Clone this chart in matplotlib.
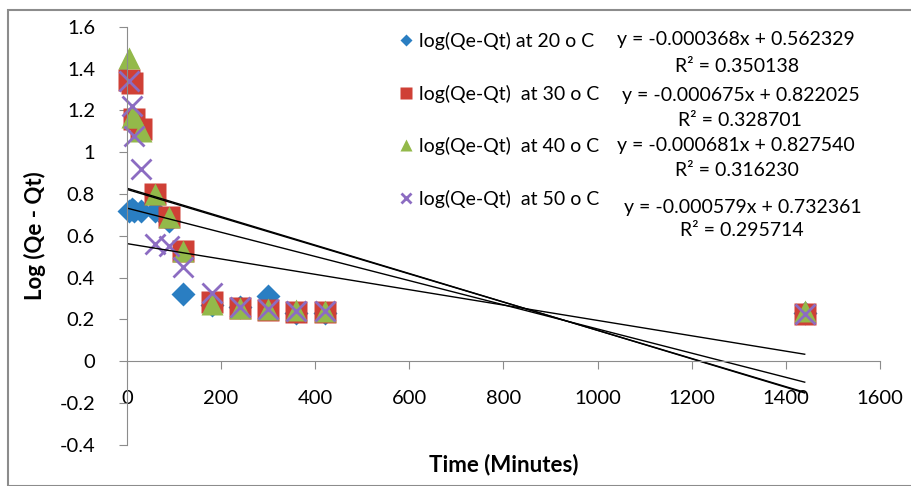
import numpy as np
import matplotlib.pyplot as plt
from matplotlib.patches import Rectangle

plt.rcParams['font.family'] = ['Lato', 'DejaVu Sans']

# tiempos (min)
t = [5, 10, 15, 30, 60, 90, 120, 180, 240, 300, 360, 420, 1440]

# log(Qe-Qt) para cada temperatura
y20 = [0.72, 0.73, 0.72, 0.72, 0.72, 0.67, 0.32, 0.27, 0.26, 0.31, 0.23, 0.23, 0.23]
y30 = [1.345, 1.33, 1.16, 1.11, 0.80, 0.69, 0.527, 0.283, 0.255, 0.245, 0.235, 0.235, 0.225]
y40 = [1.45, 1.17, 1.17, 1.10, 0.80, 0.69, 0.525, 0.275, 0.255, 0.25, 0.245, 0.24, 0.24]
y50 = [1.34, 1.22, 1.08, 0.92, 0.56, 0.55, 0.45, 0.325, 0.26, 0.25, 0.24, 0.24, 0.225]

etiquetas = ['log(Qe-Qt) at 20 o C', 'log(Qe-Qt)  at 30 o C',
             'log(Qe-Qt)  at 40 o C', 'log(Qe-Qt)  at 50 o C']
pendientes = [-0.000368, -0.000675, -0.000681, -0.000579]
ordenadas = [0.562329, 0.822025, 0.827540, 0.732361]
r2 = ['0.350138', '0.328701', '0.316230', '0.295714']

W, H = 911, 486
fig = plt.figure(figsize=(W / 100, H / 100), dpi=100)
ax = fig.add_axes([127 / W, 1 - 444.5 / H, (880 - 127) / W, (444.5 - 27) / H])

# marco gris del grafico
fig.patches.append(Rectangle((8 / W, 0), 1, 1 - 10 / H, transform=fig.transFigure,
                             fill=False, ec='#8c8c8c', lw=1.5))

colores = ['#2a7ec2', '#cf4036', '#93b94a', '#8c6cc2']
handles = []
h, = ax.plot(t, y20, 'D', color=colores[0], ms=12, mec='none', clip_on=False)
handles.append(h)
h, = ax.plot(t, y30, 's', color=colores[1], ms=16, mec='none', clip_on=False)
handles.append(h)
h, = ax.plot(t, y40, '^', color=colores[2], ms=16, mec='none', clip_on=False)
handles.append(h)
h, = ax.plot(t, y50, 'x', color=colores[3], ms=15, mew=2, clip_on=False)
handles.append(h)

# lineas de tendencia
xs = np.array([0, 1440])
for m, b in zip(pendientes, ordenadas):
    ax.plot(xs, m * xs + b, color='black', lw=1)

ax.set_xlim(0, 1600)
ax.set_ylim(-0.4, 1.6)
ax.set_xticks(np.arange(0, 1601, 200))
ax.set_yticks(np.arange(-0.4, 1.61, 0.2))
ax.set_yticklabels(['-0.4', '-0.2', '0', '0.2', '0.4', '0.6', '0.8', '1', '1.2', '1.4', '1.6'])

ax.spines['top'].set_visible(False)
ax.spines['right'].set_visible(False)
ax.spines['bottom'].set_position(('data', 0))
for s in ['left', 'bottom']:
    ax.spines[s].set_color('#8c8c8c')
ax.tick_params(axis='both', labelsize=14.5, color='#8c8c8c', length=6, direction='out')
ax.tick_params(axis='x', pad=15)
ax.tick_params(axis='y', pad=17)

ax.set_xlabel('Time (Minutes)', fontsize=16, fontweight='bold', va='center')
ax.xaxis.set_label_coords(0.5, -0.049)
ax.set_ylabel('Log (Qe - Qt)', fontsize=16, fontweight='bold', va='center', ha='center')
ax.yaxis.set_label_coords((35 - 127) / 753, 0.5)

leg = ax.legend(handles, etiquetas, loc='upper left', bbox_to_anchor=((390 - 127) / 753, 1 + 3 / 417.5),
                frameon=False, fontsize=14, markerscale=0.5, handlelength=0.8,
                handletextpad=0.3, labelspacing=1.78, borderaxespad=0)

# ecuaciones de las lineas de tendencia
eq_xy = [(736, 40), (741, 95), (736, 145), (743, 207)]
r2_xy = [(737, 67), (740, 120), (737, 170), (742, 230)]
for (ex, ey), (rx, ry), m, b, r in zip(eq_xy, r2_xy, pendientes, ordenadas, r2):
    fig.text(ex / W, 1 - ey / H, 'y = -%.6fx + %.6f' % (abs(m), b),
             ha='center', va='center', fontsize=14)
    fig.text(rx / W, 1 - ry / H, 'R² = %s' % r, ha='center', va='center', fontsize=14)

fig.savefig('out.png', dpi=100)
